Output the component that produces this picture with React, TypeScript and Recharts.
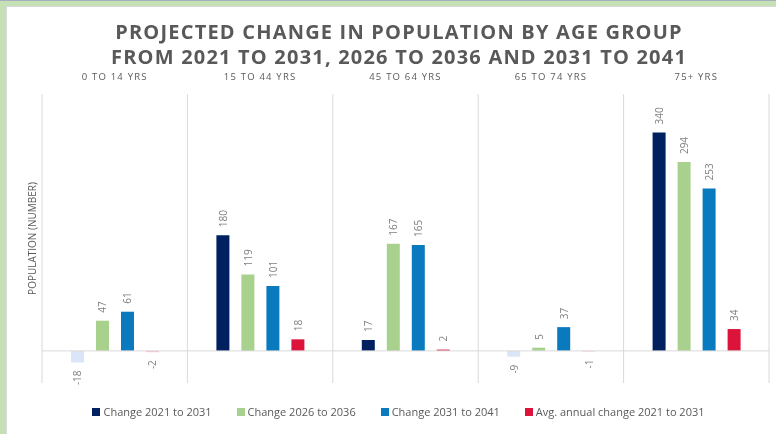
import React from 'react';
import { BarChart, Bar, XAxis, YAxis, CartesianGrid, Legend, ReferenceLine, LabelList, Cell } from 'recharts';

const categories = ['0 TO 14 YRS', '15 TO 44 YRS', '45 TO 64 YRS', '65 TO 74 YRS', '75+ YRS'];
const change2021to2031 = [-18, 180, 17, -9, 340];
const change2026to2036 = [47, 119, 167, 5, 294];
const change2031to2041 = [61, 101, 165, 37, 253];
const avgAnnual2021to2031 = [-2, 18, 2, -1, 34];

const series = [
  { key: 'c2021', name: 'Change 2021 to 2031', values: change2021to2031, color: '#002060', negColor: '#dae6f8' },
  { key: 'c2026', name: 'Change 2026 to 2036', values: change2026to2036, color: '#a9d18e', negColor: '#e2f0d9' },
  { key: 'c2031', name: 'Change 2031 to 2041', values: change2031to2041, color: '#0a7abf', negColor: '#cde4f4' },
  { key: 'avg', name: 'Avg. annual change 2021 to 2031', values: avgAnnual2021to2031, color: '#dc143c', negColor: '#f6c1ca' },
];

const data = categories.map((cat, i) => {
  const row: any = { category: cat };
  series.forEach((s) => { row[s.key] = s.values[i]; });
  return row;
});

const FONT = '"Open Sans", sans-serif';
const GRID = '#d9d9d9';

const BarValueLabel = (props: any) => {
  const { x, y, width, height, value } = props;
  if (value === undefined || value === null) return null;
  const cx = x + width / 2;
  const top = Math.min(y, y + height);
  const bottom = Math.max(y, y + height);
  const neg = value < 0;
  const py = neg ? bottom + 8 : top - 8;
  return (
    <text
      x={cx}
      y={py}
      transform={`rotate(-90, ${cx}, ${py})`}
      textAnchor={neg ? 'end' : 'start'}
      dominantBaseline="central"
      fill="#7f7f7f"
      fontSize={10}
      fontFamily={FONT}
    >
      {value}
    </text>
  );
};

const CategoryTick = (props: any) => {
  const { x, y, payload } = props;
  return (
    <text x={x} y={y - 6} textAnchor="middle" fill="#595959" fontSize={9.5} fontFamily={FONT} letterSpacing={1.2}>
      {payload.value}
    </text>
  );
};

const LegendContent = (props: any) => {
  const payload = [...(props.payload || [])].sort(
    (a: any, b: any) => series.findIndex((s) => s.name === a.value) - series.findIndex((s) => s.name === b.value)
  );
  return (
    <div style={{ display: 'flex', justifyContent: 'center', gap: 25, fontFamily: FONT, fontSize: 11, color: '#595959', paddingLeft: 14 }}>
      {payload.map((p: any) => (
        <div key={p.value} style={{ display: 'flex', alignItems: 'center' }}>
          <span style={{ width: 8, height: 8, background: p.color, marginRight: 3, display: 'inline-block' }} />
          <span>{p.value}</span>
        </div>
      ))}
    </div>
  );
};

export default function App() {
  return (
    <div style={{ position: 'fixed', left: 0, top: 0, width: 776, height: 434, background: '#c5e0b4', borderTop: '1px solid #a6b0bc', boxSizing: 'border-box' }}>
      <div style={{ position: 'absolute', left: 6, top: 5, width: 770, height: 429, background: '#fff', borderLeft: `1px solid ${GRID}`, borderTop: `1px solid ${GRID}`, boxSizing: 'border-box' }}>
        <div style={{ position: 'absolute', left: 0, width: 784, top: 12, textAlign: 'center', fontFamily: FONT, fontWeight: 700, fontSize: 20, letterSpacing: 1.2, color: '#595959', lineHeight: '25px' }}>
          <div>PROJECTED CHANGE IN POPULATION BY AGE GROUP</div>
          <div>FROM 2021 TO 2031, 2026 TO 2036 AND 2031 TO 2041</div>
        </div>
        <BarChart
          width={769}
          height={428}
          data={data}
          margin={{ top: 67, right: 7, bottom: 52, left: 0 }}
          barSize={13}
          barGap={12}
        >
          <CartesianGrid
            horizontal={false}
            stroke={GRID}
            verticalCoordinatesGenerator={({ offset }: any) =>
              categories.concat(['']).map((_, i) => offset.left + (i * offset.width) / categories.length)
            }
          />
          <XAxis dataKey="category" orientation="top" height={20} axisLine={false} tickLine={false} tick={<CategoryTick />} />
          <YAxis
            domain={[-50, 400]}
            width={35}
            tick={false}
            axisLine={false}
            tickLine={false}
            label={{
              content: ({ viewBox }: any) => {
                const lx = viewBox.x + 25;
                const ly = viewBox.y + viewBox.height / 2;
                return (
                  <text x={lx} y={ly} transform={`rotate(-90, ${lx}, ${ly})`} textAnchor="middle" dominantBaseline="central" fill="#595959" fontSize={10} fontFamily={FONT}>
                    POPULATION (NUMBER)
                  </text>
                );
              },
            }}
          />
          <ReferenceLine y={0} stroke={GRID} strokeWidth={1} />
          <Legend
            verticalAlign="middle"
            align="center"
            content={<LegendContent />}
            wrapperStyle={{ top: 397, left: 0, width: 769 }}
          />
          {series.map((s) => (
            <Bar key={s.key} dataKey={s.key} name={s.name} fill={s.color} isAnimationActive={false}>
              {s.values.map((v, i) => (
                <Cell key={i} fill={v < 0 ? s.negColor : s.color} />
              ))}
              <LabelList dataKey={s.key} content={<BarValueLabel />} />
            </Bar>
          ))}
        </BarChart>
      </div>
    </div>
  );
}
